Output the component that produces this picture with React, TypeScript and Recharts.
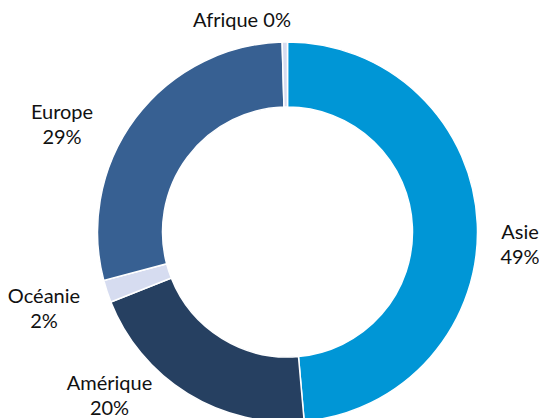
import { Cell, Pie, PieChart } from "recharts";

const regions = ["Asie", "Amérique", "Océanie", "Europe", "Afrique"];
const shares = [48.6, 20.4, 1.9, 28.65, 0.45];
const sliceColors = ["#0096D6", "#264061", "#D6DCF0", "#376092", "#D6DCF0"];

// label anchors relative to the centre (hand placed, like the original)
const labelOffsets: Array<[number, number]> = [
  [232.5, 7],
  [-178, 158],
  [-243.5, 71],
  [-225.5, -113],
  [-45.5, -205],
];

const data = regions.map((name, i) => ({ name, value: shares[i] }));

const renderLabel = (props: any) => {
  const { cx, cy, index, name, percent } = props;
  const [dx, dy] = labelOffsets[index];
  const pct = `${Math.round(percent * 100)}%`;
  const x = cx + dx;
  const y = cy + dy;
  const style = { fontFamily: "Lato, sans-serif", fontSize: 20, fill: "#111" };
  if (name === "Afrique") {
    return (
      <text x={x} y={y} textAnchor="middle" style={style}>
        {`${name} ${pct}`}
      </text>
    );
  }
  return (
    <text x={x} y={y} textAnchor="middle" style={style}>
      <tspan x={x} dy={0}>{name}</tspan>
      <tspan x={x} dy={25}>{pct}</tspan>
    </text>
  );
};

export default function App() {
  return (
    <div style={{ position: "absolute", left: 0, top: 0, width: 539, height: 418, background: "#fff" }}>
      <PieChart width={539} height={418} margin={{ top: 0, right: 0, bottom: 0, left: 0 }}>
        <Pie
          data={data}
          dataKey="value"
          nameKey="name"
          cx={287.5}
          cy={232}
          innerRadius={125}
          outerRadius={190}
          startAngle={90}
          endAngle={-270}
          stroke="#fff"
          strokeWidth={1.5}
          label={renderLabel}
          labelLine={false}
          isAnimationActive={false}
        >
          {data.map((entry, index) => (
            <Cell key={entry.name} fill={sliceColors[index]} />
          ))}
        </Pie>
      </PieChart>
    </div>
  );
}
